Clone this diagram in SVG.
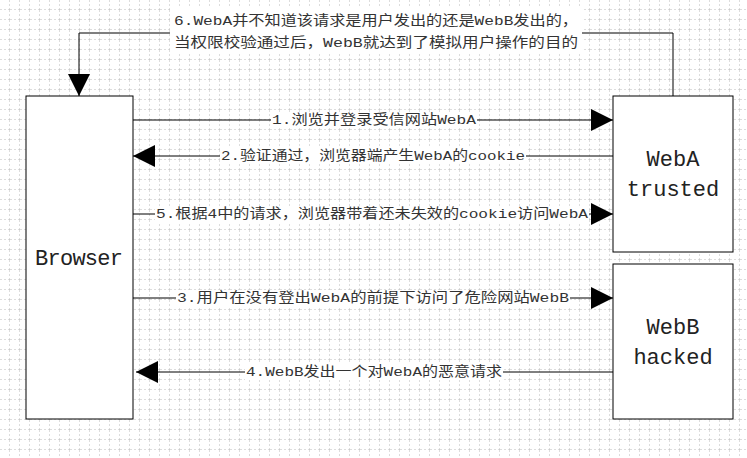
<svg xmlns="http://www.w3.org/2000/svg" width="747" height="458" viewBox="0 0 747 458">
<style>
.n{fill:#fff;stroke:#000;stroke-width:1}
.c{stroke:#000;stroke-width:1;fill:none}
.t{font-family:"Liberation Mono","Noto Sans CJK SC",monospace;font-size:13.5px;fill:#333}
.b{font-family:"Liberation Mono","Noto Sans CJK SC",monospace;font-size:22px;fill:#222;text-anchor:middle}
.bg{fill:#fff}
</style>
<defs>
<pattern id="g" width="10" height="10" patternUnits="userSpaceOnUse">
<path d="M10 0V10M0 10H10" stroke="#bbb" stroke-width="1" stroke-dasharray="2,2" fill="none"/>
</pattern>
<marker id="a" viewBox="0 0 10 10" refX="10" refY="5" markerWidth="22" markerHeight="22" markerUnits="userSpaceOnUse" orient="auto">
<path d="M0 0L10 5L0 10Z" fill="#000"/>
</marker>
</defs>
<rect width="747" height="458" fill="#fff"/>
<rect width="747" height="458" fill="url(#g)"/>
<g id="connectors">
<path class="c" d="M673 96V33H79V96" marker-end="url(#a)"/>
<path class="c" d="M133 120H613" marker-end="url(#a)"/>
<path class="c" d="M613 156H133" marker-end="url(#a)"/>
<path class="c" d="M133 214H613" marker-end="url(#a)"/>
<path class="c" d="M133 298H613" marker-end="url(#a)"/>
<path class="c" d="M613 372H136" marker-end="url(#a)"/>
<rect class="bg" x="170" y="8" width="412" height="46"/>
<text class="t" x="174" y="25" textLength="404" lengthAdjust="spacingAndGlyphs">6.WebA并不知道该请求是用户发出的还是WebB发出的，</text>
<text class="t" x="174" y="47" textLength="404" lengthAdjust="spacingAndGlyphs">当权限校验通过后，WebB就达到了模拟用户操作的目的</text>
<rect class="bg" x="271" y="112" width="206" height="16"/>
<text class="t" x="272" y="124" textLength="204" lengthAdjust="spacingAndGlyphs">1.浏览并登录受信网站WebA</text>
<rect class="bg" x="220" y="148" width="306" height="16"/>
<text class="t" x="221" y="160" textLength="304" lengthAdjust="spacingAndGlyphs">2.验证通过，浏览器端产生WebA的cookie</text>
<rect class="bg" x="155" y="206" width="434" height="16"/>
<text class="t" x="156" y="218" textLength="432" lengthAdjust="spacingAndGlyphs">5.根据4中的请求，浏览器带着还未失效的cookie访问WebA</text>
<rect class="bg" x="176" y="290" width="394" height="16"/>
<text class="t" x="177" y="302" textLength="392" lengthAdjust="spacingAndGlyphs">3.用户在没有登出WebA的前提下访问了危险网站WebB</text>
<rect class="bg" x="245" y="364" width="258" height="16"/>
<text class="t" x="246" y="376" textLength="256" lengthAdjust="spacingAndGlyphs">4.WebB发出一个对WebA的恶意请求</text>
</g>
<g id="browser"><rect class="n" x="26" y="96" width="107" height="323"/><text class="b" x="79" y="265" textLength="88">Browser</text></g>
<g id="weba"><rect class="n" x="613" y="96" width="120" height="156"/><text class="b" x="673" y="166">WebA</text><text class="b" x="673" y="196">trusted</text></g>
<g id="webb"><rect class="n" x="613" y="264" width="120" height="155"/><text class="b" x="673" y="334">WebB</text><text class="b" x="673" y="364">hacked</text></g>
</svg>
